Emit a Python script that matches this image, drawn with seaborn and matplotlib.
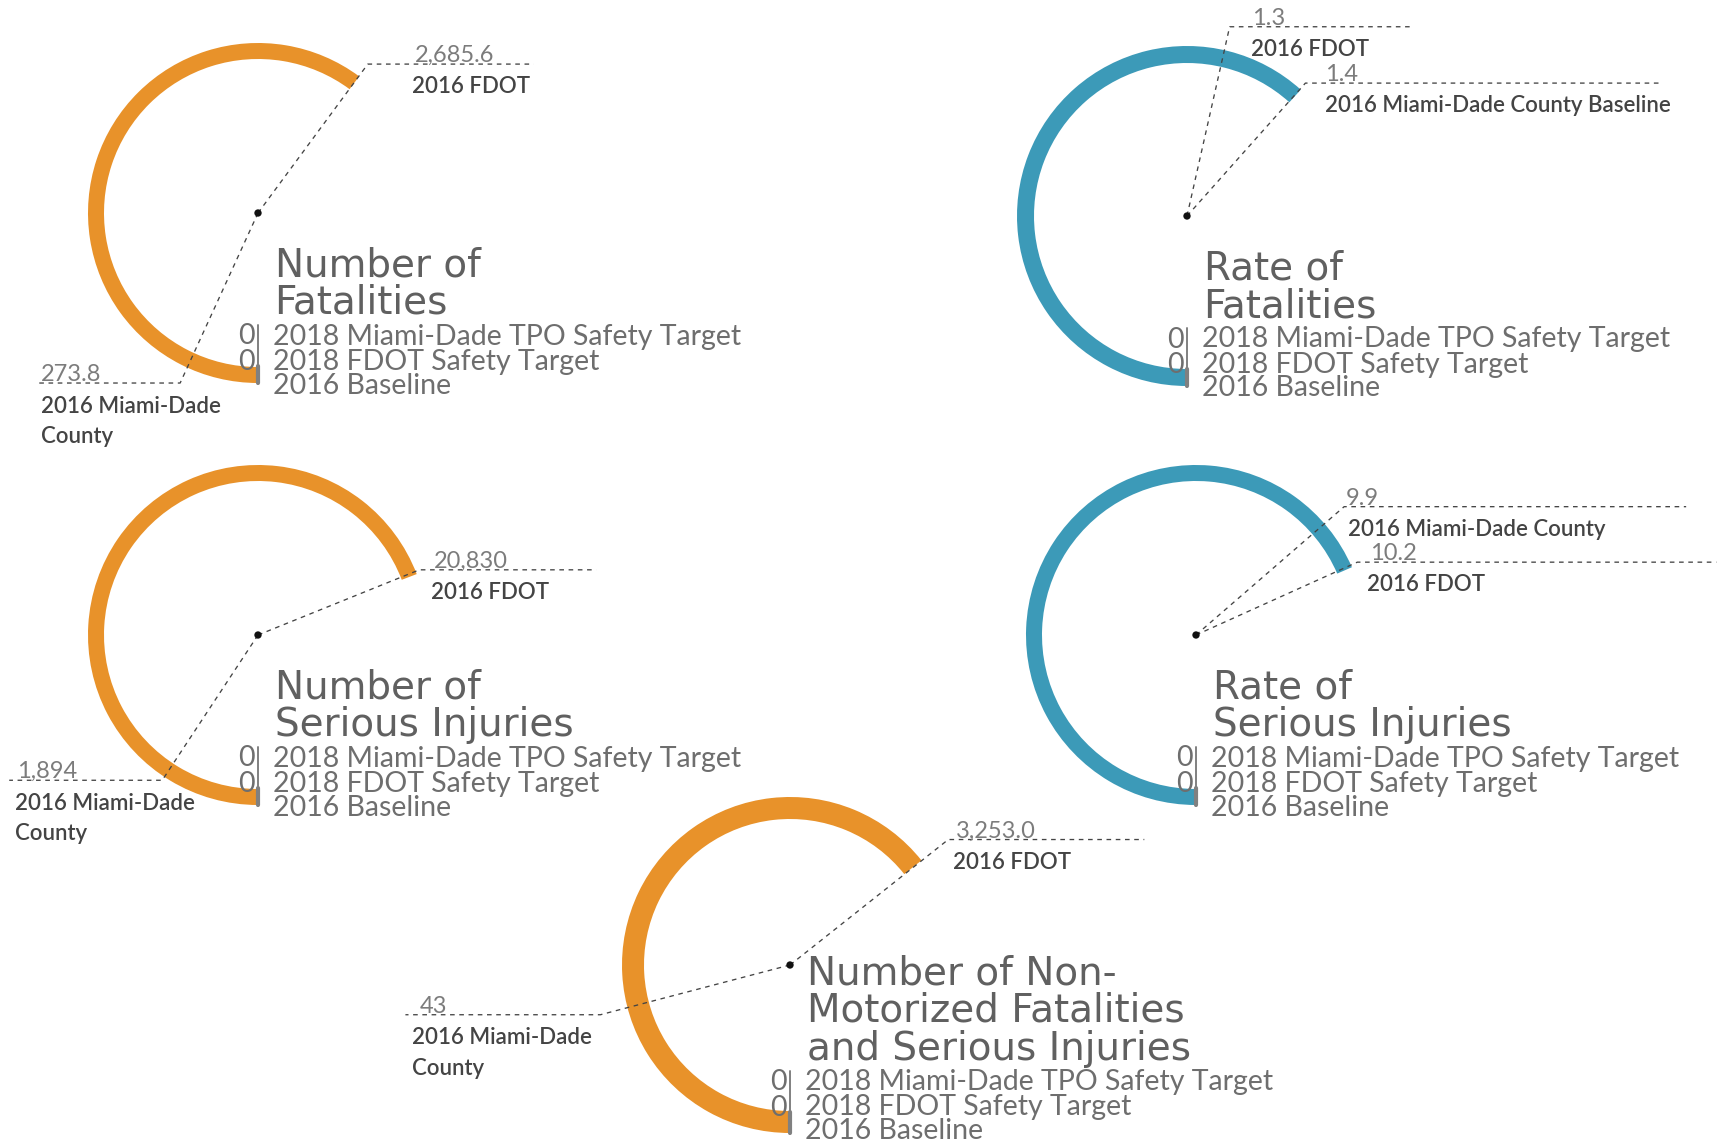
import matplotlib
matplotlib.use("Agg")
import matplotlib.pyplot as plt
from matplotlib import font_manager
from matplotlib.patches import Wedge
import numpy as np
import pandas as pd
import seaborn as sns

# ---- values ----
TITLES = [
    "Number of\nFatalities",
    "Rate of\nFatalities",
    "Number of\nSerious Injuries",
    "Rate of\nSerious Injuries",
    "Number of Non-\nMotorized Fatalities\nand Serious Injuries",
]
FDOT_2016 = [2685.6, 1.3, 20830, 10.2, 3253.0]
COUNTY_2016 = [273.8, 1.4, 1894, 9.9, 43]
FDOT_FMT = ["{:,.1f}", "{:.1f}", "{:,.0f}", "{:.1f}", "{:,.1f}"]
COUNTY_FMT = ["{:,.1f}", "{:.1f}", "{:,.0f}", "{:.1f}", "{:,.0f}"]
FDOT_LABEL = "2016 FDOT"
COUNTY_LABELS = [
    "2016 Miami-Dade\nCounty",
    "2016 Miami-Dade County Baseline",
    "2016 Miami-Dade\nCounty",
    "2016 Miami-Dade County",
    "2016 Miami-Dade\nCounty",
]
TPO_TARGET_2018 = [0, 0, 0, 0, 0]
FDOT_TARGET_2018 = [0, 0, 0, 0, 0]
ROW_LABELS = ["2018 Miami-Dade TPO Safety Target", "2018 FDOT Safety Target", "2016 Baseline"]

# ---- layout (pixels, figure is 1717 x 1146) ----
W, H = 1717, 1146
ORANGE = "#E8922A"
TEAL = "#3C9AB8"
COLORS = [ORANGE, TEAL, ORANGE, TEAL, ORANGE]
CENTERS = [(258, 213), (1187, 216), (258, 635), (1196, 635), (790, 965)]
R_OUT = [170, 170, 170, 170, 168]
RING_W = [16, 17, 16, 16, 22]
SWEEP = [216.5, 222, 249, 246.5, 231.5]  # degrees (clockwise from 6 o'clock) for the larger value
# callouts: angle, radius, side (+1 right / -1 left), line length, value dx, label dx
FDOT_CALLOUT = [(216.4, 185, 1, 166, 47, 44), (192.7, 194, 1, 180, 22, 21),
                (248, 174, 1, 177, 15, 12), (245.7, 177, 1, 359, 13, 10),
                (231.6, 202, 1, 196, 8, 5)]
COUNTY_CALLOUT = [(24.6, 187, -1, 142, 3, 3), (221.7, 178, 1, 354, 20, 20),
                  (33.4, 174, -1, 153, 8, 6), (229.1, 196, 1, 342, 2, 4),
                  (75.3, 196, -1, 195, 14, 7)]
ROW_DY = [131.5, 157, 180.5]
LABEL_PITCH = 31

sns.set_theme(style="white")
names = {f.name for f in font_manager.fontManager.ttflist}
BODY = "Lato" if "Lato" in names else "Open Sans"
TITLE_FONT = "DejaVu Sans"
plt.rcParams["font.family"] = [BODY, "DejaVu Sans"]

LINE = "#444444"
TITLE_C = "#606060"
ROW_C = "#6e6e6e"
VAL_C = "#7c7c7c"
LAB_C = "#444444"

fig = plt.figure(figsize=(W / 100, H / 100), dpi=100)
ax = fig.add_axes([0, 0, 1, 1])


def polar(cx, cy, ang, r):
    t = np.deg2rad(90 + ang)
    return cx + r * np.cos(t), cy + r * np.sin(t)


def callout(cx, cy, spec, value_txt, label_txt):
    ang, r, side, length, vdx, ldx = spec
    px, py = polar(cx, cy, ang, r)
    end_x = px + side * length
    ax.plot([cx, px, end_x], [cy, py, py], ls=(0, (3.5, 3.5)), lw=0.95,
            color=LINE, zorder=4)
    x0 = px if side > 0 else end_x
    ax.text(x0 + vdx, py - 2, value_txt, va="baseline", ha="left",
            fontsize=17, color=VAL_C, zorder=5)
    # va="baseline" pins the last line, so push multi-line labels down
    n = label_txt.count("\n")
    ax.text(x0 + ldx, py + 29 + LABEL_PITCH * n, label_txt, va="baseline",
            ha="left", fontsize=16, color=LAB_C, fontweight="semibold",
            linespacing=1.55, zorder=5)


for i, title in enumerate(TITLES):
    cx, cy = CENTERS[i]
    vmax = max(FDOT_2016[i], COUNTY_2016[i])
    scale = SWEEP[i] / vmax
    end_deg = max(FDOT_2016[i], COUNTY_2016[i]) * scale
    ax.add_patch(Wedge((cx, cy), R_OUT[i], 90, 90 + end_deg, width=RING_W[i],
                       facecolor=COLORS[i], edgecolor="none", zorder=2))

    callout(cx, cy, FDOT_CALLOUT[i], FDOT_FMT[i].format(FDOT_2016[i]), FDOT_LABEL)
    callout(cx, cy, COUNTY_CALLOUT[i], COUNTY_FMT[i].format(COUNTY_2016[i]),
            COUNTY_LABELS[i])

    # keep the bottom row inside the canvas for the lowest gauge
    lift = max(0, cy + ROW_DY[-1] - (H - 7))

    ax.text(cx + 16.5, cy + 101 - lift, title, va="baseline",
            ha="left", fontsize=28, color=TITLE_C, family=TITLE_FONT,
            linespacing=0.99, zorder=5)

    for k, lab in enumerate(ROW_LABELS):
        ax.text(cx + 15, cy + ROW_DY[k] - lift, lab, va="baseline", ha="left",
                fontsize=20.5, color=ROW_C, zorder=5)
    for k, v in enumerate([TPO_TARGET_2018[i], FDOT_TARGET_2018[i]]):
        ax.text(cx - 3, cy + ROW_DY[k] - lift, f"{v}", va="baseline", ha="right",
                fontsize=20.5, color=ROW_C, zorder=5)

    # separator bar between the target values and their labels
    ax.plot([cx, cx], [cy + 112 - lift, cy + R_OUT[i]], color="#808080", lw=1.4, zorder=3)
    ax.plot([cx, cx], [cy + 153 - lift, cy + R_OUT[i]], color="#808080", lw=3.0, zorder=3)

centers = pd.DataFrame(CENTERS, columns=["x", "y"])
sns.scatterplot(data=centers, x="x", y="y", ax=ax, color="#111111", s=28,
                edgecolor="none", legend=False, zorder=6)

ax.set_xlim(0, W)
ax.set_ylim(H, 0)
ax.set_aspect("equal")
ax.axis("off")

fig.savefig("out.png", dpi=100)
